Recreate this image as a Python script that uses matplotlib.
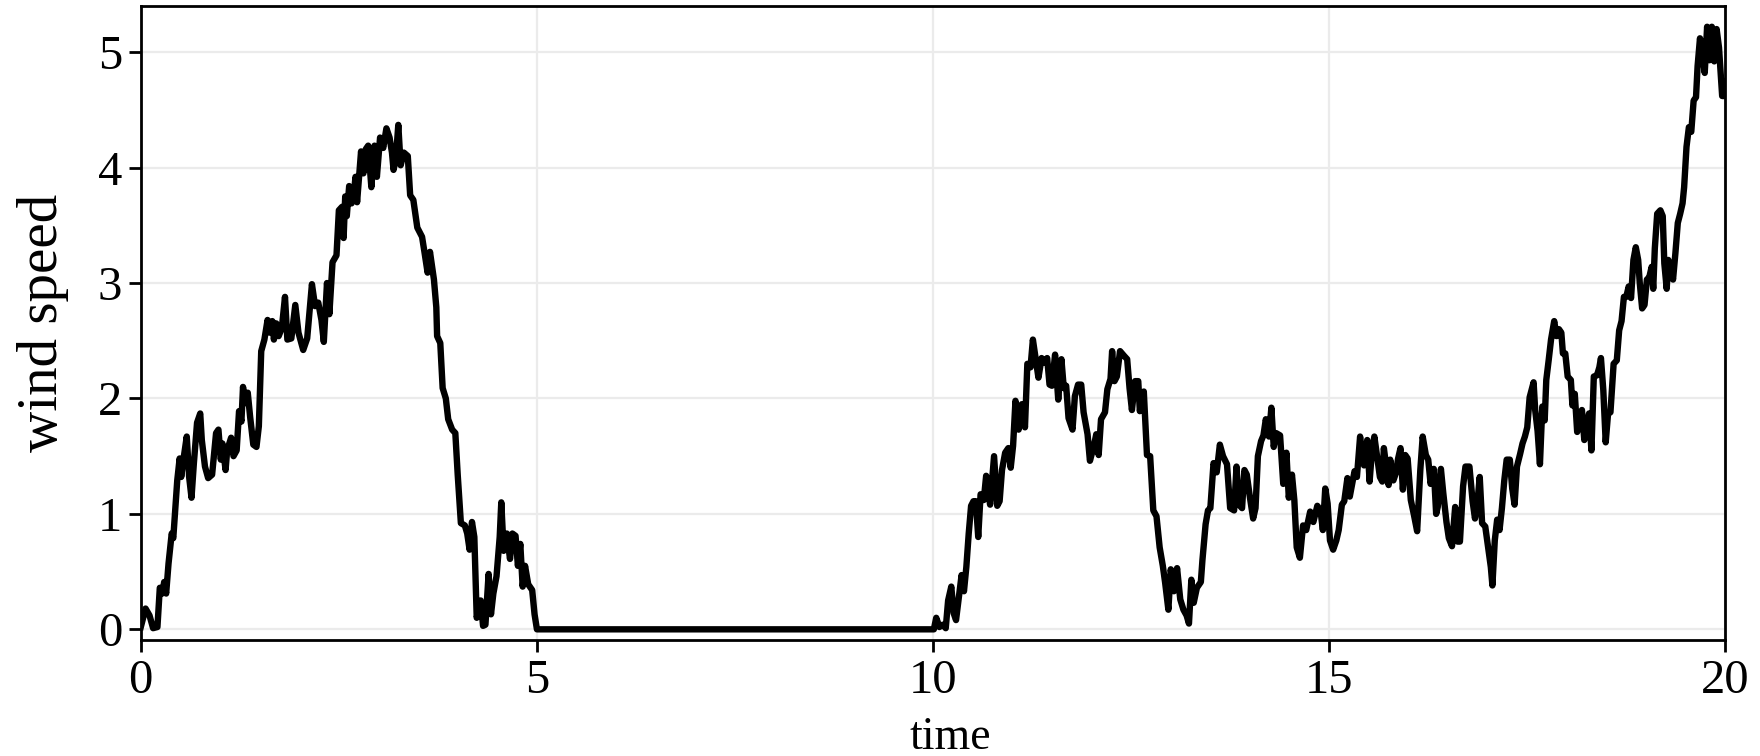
import numpy as np
import matplotlib.pyplot as plt

# wind speed record read point by point (time, speed)
t_gust1 = [0.00, 0.06, 0.11, 0.155, 0.21, 0.24, 0.27, 0.295, 0.32, 0.35, 0.39, 0.41, 0.44, 0.46,
           0.49, 0.51, 0.54, 0.58, 0.61, 0.64, 0.67, 0.71, 0.75, 0.77, 0.81, 0.85, 0.90, 0.95,
           0.98, 1.01, 1.03, 1.07, 1.09, 1.14, 1.17, 1.21, 1.24, 1.27, 1.29, 1.32, 1.35, 1.38,
           1.42, 1.46, 1.49, 1.52, 1.56, 1.60, 1.63, 1.66, 1.68, 1.71, 1.74, 1.78, 1.82, 1.85,
           1.90, 1.95, 1.99, 2.05, 2.10, 2.16, 2.20, 2.24, 2.28, 2.31, 2.35, 2.38,
           2.42, 2.47, 2.50, 2.54, 2.56, 2.58, 2.60, 2.63, 2.66, 2.69, 2.71, 2.73, 2.78, 2.81,
           2.84, 2.87, 2.91, 2.95, 2.98, 3.02, 3.06, 3.10, 3.14, 3.17, 3.19, 3.22, 3.25, 3.28,
           3.32, 3.37, 3.40, 3.44, 3.49, 3.55, 3.58, 3.62, 3.65, 3.70, 3.73, 3.74, 3.78, 3.81,
           3.85, 3.88, 3.93, 3.97, 4.00, 4.04, 4.09, 4.12, 4.15, 4.18, 4.21, 4.24, 4.29, 4.32,
           4.35, 4.39, 4.42, 4.45, 4.49, 4.53, 4.55, 4.58, 4.62, 4.66, 4.69, 4.73, 4.76, 4.79,
           4.82, 4.85, 4.89, 4.94, 4.97, 5.00]
v_gust1 = [0.02, 0.18, 0.12, 0.01, 0.02, 0.36, 0.31, 0.41, 0.31, 0.57, 0.83, 0.79, 1.09, 1.29,
           1.48, 1.32, 1.48, 1.67, 1.32, 1.14, 1.44, 1.79, 1.87, 1.64, 1.41, 1.31, 1.34, 1.70,
           1.73, 1.47, 1.61, 1.38, 1.55, 1.66, 1.50, 1.55, 1.89, 1.80, 2.10, 1.96, 2.05, 1.84,
           1.60, 1.58, 1.76, 2.41, 2.51, 2.68, 2.57, 2.67, 2.51, 2.65, 2.54, 2.61, 2.88, 2.51,
           2.52, 2.81, 2.57, 2.42, 2.52, 2.99, 2.80, 2.83, 2.68, 2.49, 3.00, 2.73,
           3.18, 3.24, 3.63, 3.66, 3.39, 3.75, 3.58, 3.84, 3.69, 3.78, 3.92, 3.70, 4.14, 3.95,
           4.16, 4.19, 3.83, 4.19, 3.92, 4.26, 4.17, 4.34, 4.26, 4.13, 3.98, 4.08, 4.37, 4.02,
           4.13, 4.10, 3.76, 3.72, 3.48, 3.40, 3.27, 3.09, 3.27, 3.03, 2.79, 2.54, 2.48, 2.09,
           2.00, 1.82, 1.73, 1.70, 1.34, 0.92, 0.90, 0.83, 0.69, 0.93, 0.80, 0.10, 0.25, 0.03,
           0.04, 0.48, 0.13, 0.31, 0.46, 0.80, 1.10, 0.68, 0.83, 0.61, 0.83, 0.81, 0.55, 0.74,
           0.37, 0.55, 0.39, 0.34, 0.13, 0.00]

# calm spell
t_calm = [7.50]
v_calm = [0.00]

t_gust2 = [10.01, 10.04, 10.08, 10.12, 10.16, 10.19, 10.23, 10.26, 10.29, 10.32, 10.36, 10.39,
           10.42, 10.45, 10.48, 10.51, 10.54, 10.57, 10.60, 10.64, 10.67, 10.70, 10.72, 10.77,
           10.81, 10.84, 10.87, 10.91, 10.95, 10.98, 11.01, 11.04, 11.08, 11.12, 11.16, 11.19,
           11.23, 11.26, 11.29, 11.33, 11.37, 11.41, 11.44, 11.47, 11.50, 11.54, 11.58, 11.62,
           11.65, 11.68, 11.71, 11.76, 11.79, 11.83, 11.87, 11.90, 11.95, 11.98, 12.03, 12.06,
           12.09, 12.12, 12.17, 12.20, 12.24, 12.26, 12.29, 12.32, 12.36, 12.41, 12.45, 12.48,
           12.51, 12.55, 12.59, 12.61, 12.66, 12.70, 12.74, 12.78, 12.82, 12.86, 12.90, 12.93,
           12.97, 13.00, 13.04, 13.08, 13.12, 13.16, 13.20, 13.23, 13.26, 13.29, 13.33, 13.38,
           13.40, 13.44, 13.47, 13.50, 13.54, 13.58, 13.62, 13.66, 13.71, 13.75, 13.80, 13.83,
           13.86, 13.90, 13.93, 13.96, 14.00, 14.04, 14.07, 14.10, 14.14, 14.17, 14.20, 14.24,
           14.27, 14.30, 14.33, 14.38, 14.42, 14.46, 14.49, 14.53, 14.56, 14.59, 14.63, 14.67,
           14.71, 14.76, 14.80, 14.85, 14.89, 14.92, 14.95, 14.98, 15.01, 15.05, 15.09, 15.12,
           15.16, 15.19, 15.23, 15.26, 15.29, 15.32, 15.35, 15.39, 15.42, 15.44, 15.48, 15.51,
           15.54, 15.57, 15.60, 15.64, 15.67, 15.69, 15.72, 15.75, 15.77, 15.81, 15.84, 15.87,
           15.90, 15.93, 15.96, 15.99, 16.03, 16.07, 16.11, 16.15, 16.18, 16.22, 16.25, 16.28,
           16.32, 16.35, 16.37, 16.41, 16.44, 16.48, 16.51, 16.55, 16.59, 16.62, 16.65, 16.69,
           16.72, 16.77, 16.81, 16.84, 16.87, 16.90, 16.93, 16.97, 17.00, 17.04, 17.06, 17.09,
           17.12, 17.15, 17.18, 17.21, 17.24, 17.28, 17.31, 17.34, 17.37, 17.41, 17.44, 17.47,
           17.50, 17.53, 17.58, 17.60, 17.63, 17.66, 17.69, 17.72, 17.74, 17.77, 17.80, 17.84,
           17.87, 17.90, 17.93, 17.95, 17.98, 18.01, 18.05, 18.07, 18.10, 18.13, 18.16, 18.19,
           18.22, 18.25, 18.28, 18.31, 18.34, 18.38, 18.41, 18.43, 18.46, 18.49, 18.52, 18.55,
           18.59, 18.63, 18.66, 18.69, 18.72, 18.75, 18.78, 18.81, 18.84, 18.87, 18.90, 18.92,
           18.95, 18.98, 19.01, 19.04, 19.07, 19.09, 19.11, 19.14, 19.18, 19.21, 19.23, 19.26,
           19.28, 19.31, 19.34, 19.37, 19.40, 19.43, 19.46, 19.48, 19.51, 19.54, 19.57, 19.60,
           19.63, 19.65, 19.68, 19.71, 19.74, 19.77, 19.80, 19.83, 19.86, 19.89, 19.92, 19.96,
           19.99, 20.00]
v_gust2 = [0.00, 0.10, 0.02, 0.04, 0.01, 0.25, 0.37, 0.14, 0.08, 0.25, 0.47, 0.33,
           0.54, 0.83, 1.07, 1.11, 1.11, 0.80, 1.17, 1.12, 1.33, 1.18, 1.08, 1.50,
           1.07, 1.11, 1.38, 1.53, 1.57, 1.40, 1.59, 1.98, 1.73, 1.95, 1.75, 2.30,
           2.27, 2.51, 2.37, 2.18, 2.35, 2.31, 2.35, 2.12, 2.11, 2.38, 1.99, 2.34,
           2.09, 2.11, 1.83, 1.73, 2.02, 2.12, 2.12, 1.88, 1.69, 1.46, 1.59, 1.69,
           1.51, 1.82, 1.88, 2.08, 2.17, 2.41, 2.15, 2.19, 2.41, 2.37, 2.34, 2.09,
           1.90, 2.15, 2.15, 1.89, 2.06, 1.51, 1.50, 1.03, 0.98, 0.71, 0.55, 0.40,
           0.17, 0.52, 0.33, 0.53, 0.26, 0.17, 0.12, 0.05, 0.43, 0.23, 0.36, 0.41,
           0.60, 0.91, 1.03, 1.05, 1.44, 1.36, 1.60, 1.50, 1.43, 1.05, 1.03, 1.41,
           1.08, 1.05, 1.38, 1.34, 1.14, 0.96, 1.05, 1.50, 1.63, 1.68, 1.82, 1.67,
           1.92, 1.58, 1.70, 1.68, 1.26, 1.53, 1.14, 1.34, 1.12, 0.71, 0.62, 0.90,
           0.86, 1.02, 0.93, 1.07, 1.03, 0.86, 1.22, 1.09, 0.77, 0.69, 0.77, 0.86,
           1.08, 1.11, 1.31, 1.15, 1.26, 1.37, 1.32, 1.67, 1.49, 1.42, 1.64, 1.28,
           1.55, 1.67, 1.52, 1.32, 1.28, 1.57, 1.41, 1.25, 1.47, 1.29, 1.35, 1.48,
           1.57, 1.21, 1.51, 1.48, 1.12, 0.99, 0.85, 1.38, 1.67, 1.51, 1.47, 1.26,
           1.39, 1.00, 1.06, 1.39, 1.18, 0.93, 0.79, 0.72, 1.06, 0.76, 0.76, 1.24,
           1.41, 1.41, 1.11, 0.96, 1.09, 1.32, 0.92, 0.89, 0.74, 0.54, 0.38, 0.77,
           0.95, 0.86, 1.05, 1.29, 1.47, 1.47, 1.22, 1.08, 1.41, 1.52, 1.61, 1.67,
           1.75, 2.01, 2.14, 1.90, 1.72, 1.43, 1.93, 1.81, 2.16, 2.33, 2.51, 2.67,
           2.54, 2.60, 2.57, 2.39, 2.39, 2.19, 2.16, 1.94, 2.04, 1.71, 1.78, 1.90,
           1.64, 1.72, 1.87, 1.55, 2.19, 2.20, 2.27, 2.35, 2.07, 1.62, 1.87, 1.88,
           2.30, 2.33, 2.59, 2.67, 2.88, 2.88, 2.97, 2.87, 3.20, 3.31, 3.20, 3.00,
           2.78, 2.81, 3.03, 3.05, 3.14, 2.95, 3.30, 3.60, 3.63, 3.58, 3.17, 2.95,
           3.20, 3.14, 3.03, 3.26, 3.52, 3.60, 3.69, 3.83, 4.18, 4.35, 4.31, 4.58,
           4.61, 4.88, 5.12, 4.98, 4.82, 5.22, 4.93, 5.22, 4.92, 5.20, 5.04, 4.62,
           4.62, 4.75]

time = np.array(t_gust1 + t_calm + t_gust2)
speed = np.array(v_gust1 + v_calm + v_gust2)

plt.rcParams['font.family'] = 'Liberation Serif'

fig = plt.figure(figsize=(17.6, 7.56), dpi=100)
ax = fig.add_axes([0.0800, 0.1535, 0.9003, 0.8386])

ax.plot(time, speed, color='black', lw=4.6, solid_joinstyle='round')

ax.set_xlim(0, 20)
ax.set_ylim(-0.092, 5.40)
ax.set_xticks([0, 5, 10, 15, 20])
ax.set_yticks([0, 1, 2, 3, 4, 5])
ax.grid(True, color='#ebebeb', lw=1.6)
ax.set_axisbelow(True)

for s in ax.spines.values():
    s.set_linewidth(2.0)
ax.tick_params(direction='out', length=8.5, width=2.0, labelsize=35, pad=5)

ax.set_xlabel('time', fontsize=33)
ax.xaxis.set_label_coords(0.511, -0.120)
ax.set_ylabel('wind speed', fontsize=41)
ax.yaxis.set_label_coords(-0.045, 0.5)

fig.savefig('out.png', dpi=100)
